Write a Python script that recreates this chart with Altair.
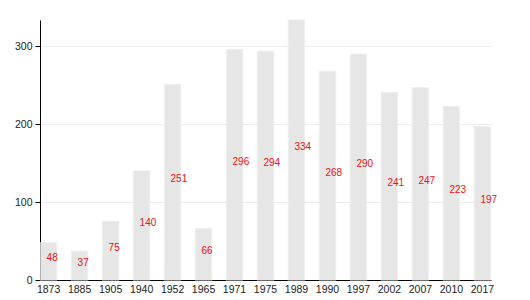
import altair as alt
import pandas as pd

years = ["1873", "1885", "1905", "1940", "1952", "1965", "1971", "1975", "1989",
         "1990", "1997", "2002", "2007", "2010", "2017"]
values = [48, 37, 75, 140, 251, 66, 296, 294, 334, 268, 290, 241, 247, 223, 197]

df = pd.DataFrame({"year": years, "value": values})
df["half"] = df["value"] / 2

x = alt.X("year:N", sort=years, title=None,
          scale=alt.Scale(paddingInner=0.484, paddingOuter=0.02),
          axis=alt.Axis(labelAngle=0, ticks=False, domainColor="#000", labelColor="#222",
                        labelFontSize=10.5, labelFont="Liberation Sans", labelPadding=4))

base = alt.Chart(df)

bars = base.mark_bar(color="#e6e6e6", stroke="#ebebeb", strokeWidth=1.5, strokeOpacity=0.6).encode(
    x=x,
    y=alt.Y("value:Q", title=None,
            scale=alt.Scale(domain=[0, 334], nice=False),
            axis=alt.Axis(values=[0, 100, 200, 300], grid=True, gridColor="#ececec",
                          domainColor="#000", tickColor="#000", tickSize=5,
                          labelPadding=3, labelColor="#222", labelFontSize=10.5,
                          labelFont="Liberation Sans")),
)

labels = base.mark_text(color="#ee1111", align="left", baseline="middle", dx=-2, dy=-3,
                        fontSize=10, font="Liberation Sans").encode(
    x=alt.X("year:N", sort=years),
    y=alt.Y("half:Q"),
    text=alt.Text("value:Q"),
)

chart = (bars + labels).properties(
    width=451, height=260,
    autosize=alt.AutoSizeParams(type="none"),
    padding={"left": 40, "top": 20, "right": 39, "bottom": 20},
).configure_view(stroke=None).configure_axis(domainWidth=1)

chart.save("out.html", embed_options={"renderer": "svg", "actions": False})
